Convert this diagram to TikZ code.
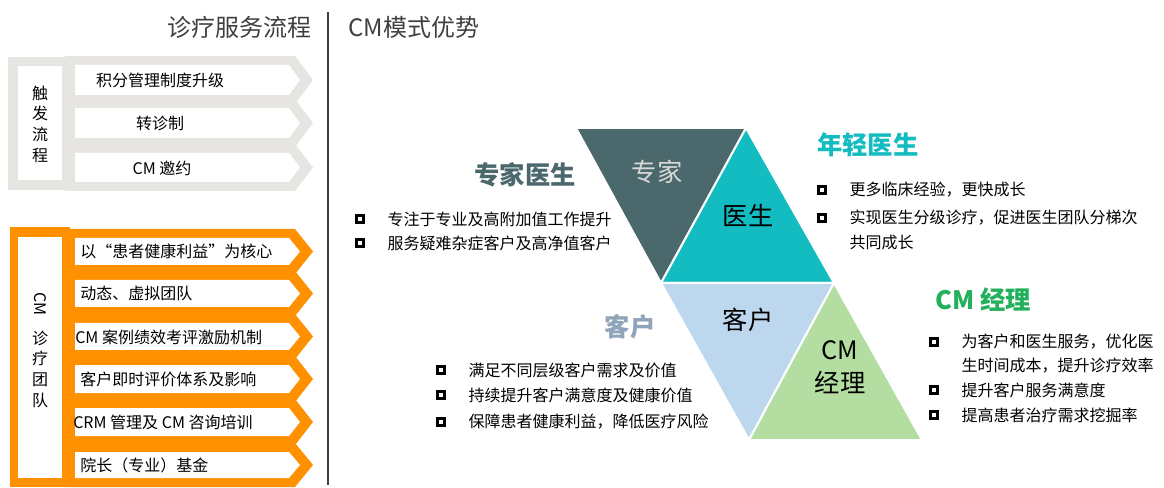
\documentclass[tikz,border=0pt]{standalone}
\usepackage{fontspec}
\setmainfont{Noto Sans CJK SC}
\usetikzlibrary{positioning}
\definecolor{flowgray}{HTML}{E6E5E1}
\definecolor{teamorange}{HTML}{FF9000}
\definecolor{expertslate}{HTML}{4B686C}
\definecolor{doctorteal}{HTML}{12BCC0}
\definecolor{clientblue}{HTML}{BDD7EE}
\definecolor{managergreen}{HTML}{B4DEA1}
\definecolor{headgreen}{HTML}{21B05B}
\definecolor{headblue}{HTML}{8FA4B8}
\definecolor{titlegray}{HTML}{3F3F3F}
\tikzstyle{rowtext} = [inner sep=0pt, font=\fontsize{12}{15.5}\selectfont]
\tikzstyle{item} = [inner sep=0pt, anchor=west, font=\fontsize{12}{14}\selectfont]
\tikzstyle{bullet} = [draw=black, fill=white, line width=1.9pt, minimum size=5pt, inner sep=0pt]
\tikzstyle{heading} = [inner sep=0pt, font=\fontsize{19}{22}\selectfont\bfseries]
\tikzstyle{tritext} = [inner sep=0pt, align=center, font=\fontsize{19}{25}\selectfont]
\tikzstyle{tri} = [draw=white, line width=1.5pt, line join=miter]
% one chevron row: colour, top and bottom of the white part
\newcommand{\chevron}[3]{%
  \fill[#1] (65,#2-9) -- (295,#2-9) -- (313,{(#2+#3)/2}) -- (295,#3+9) -- (65,#3+9) -- cycle;
  \fill[white] (75,#2) -- (289,#2) -- (300,{(#2+#3)/2}) -- (289,#3) -- (75,#3) -- cycle;}

\begin{document}
\begin{tikzpicture}[x=0.75pt, y=-0.75pt]
\useasboundingbox (0,0) rectangle (1164,488);
% titles
\node[inner sep=0pt, anchor=east, text=titlegray, font=\fontsize{18}{20}\selectfont] (left title) at (312,27) {诊疗服务流程};
\node[inner sep=0pt, anchor=west, text=titlegray, font=\fontsize{18}{20}\selectfont] (right title) at (348,27) {CM模式优势};
\draw[titlegray, line width=1.5pt] (328,12) -- (328,485);

% trigger flow
\fill[flowgray] (8,57) rectangle (70,190);
\fill[white] (18,66) rectangle (62,180);
\foreach \ya/\yb in {65/95, 108/138, 153/182}
  {\chevron{flowgray}{\ya}{\yb}}
\node[rowtext, align=center] (trigger) at (40,124) {触\\发\\流\\程};
\node[rowtext] (g1) at (160,80) {积分管理制度升级};
\node[rowtext] (g2) at (160,123) {转诊制};
\node[rowtext] (g3) at (162,168) {CM 邀约};

% CM team
\fill[teamorange] (10,227) rectangle (70,487);
\fill[white] (18,237) rectangle (62,478);
\foreach \ya/\yb in {238/265, 280/307, 323/350, 365/393, 408/436, 452/478}
  {\chevron{teamorange}{\ya}{\yb}}
\node[rowtext, rotate=-90] (team cm) at (40,304) {CM};
\node[rowtext, align=center] (team) at (40,369) {诊\\疗\\团\\队};
\node[rowtext, anchor=west] (o1) at (80,251) {以“患者健康利益”为核心};
\node[rowtext, anchor=west] (o2) at (80,293) {动态、虚拟团队};
\node[rowtext, anchor=west] (o3) at (75,337) {CM\ 案例绩效考评激励机制};
\node[rowtext, anchor=west] (o4) at (80,379) {客户即时评价体系及影响};
\node[rowtext, anchor=west] (o5) at (73,422) {CRM\ 管理及 CM 咨询培训};
\node[rowtext, anchor=west] (o6) at (80,465) {院长（专业）基金};

% triangles
\filldraw[tri, fill=expertslate] (576,128) -- (746,128) -- (661,283) -- cycle;
\filldraw[tri, fill=doctorteal] (661,283) -- (746,128) -- (834,283) -- cycle;
\filldraw[tri, fill=clientblue] (661,283) -- (834,283) -- (749,440) -- cycle;
\filldraw[tri, fill=managergreen] (749,440) -- (834,283) -- (922,440) -- cycle;
\node[tritext, text=black!15] (expert tri) at (657,172) {专家};
\node[tritext] (doctor tri) at (748,215) {医生};
\node[tritext] (client tri) at (748,320) {客户};
\node[tritext] (manager tri) at (840,367) {CM\\经理};

% expert doctor
\node[heading, text=expertslate] (expert) at (525,175) {专家医生};
\node[bullet] (eb1) at (360,219) {};
\node[item, right=17pt of eb1] (et1) {专注于专业及高附加值工作提升};
\node[bullet] (eb2) at (360,243) {};
\node[item, right=17pt of eb2] (et2) {服务疑难杂症客户及高净值客户};

% young doctor
\node[heading, anchor=west, text=doctorteal] (young) at (817,145) {年轻医生};
\node[bullet] (yb1) at (822,190) {};
\node[item, right=17pt of yb1] (yt1) {更多临床经验，更快成长};
\node[bullet] (yb2) at (822,218) {};
\node[item, right=17pt of yb2] (yt2) {实现医生分级诊疗，促进医生团队分梯次};
\node[item] (yt2b) at ([yshift=-18.5pt]yt2.west) {共同成长};

% client
\node[heading, text=headblue] (client) at (630,327) {客户};
\node[bullet] (cb1) at (441,370) {};
\node[item, right=17pt of cb1] (ct1) {满足不同层级客户需求及价值};
\node[bullet] (cb2) at (441,395) {};
\node[item, right=17pt of cb2] (ct2) {持续提升客户满意度及健康价值};
\node[bullet] (cb3) at (441,422) {};
\node[item, right=17pt of cb3] (ct3) {保障患者健康利益，降低医疗风险};

% CM manager
\node[heading, anchor=west, text=headgreen] (manager) at (935,300) {CM 经理};
\node[bullet] (mb1) at (934,342) {};
\node[item, right=17pt of mb1] (mt1) {为客户和医生服务，优化医};
\node[item] (mt1b) at ([yshift=-18pt]mt1.west) {生时间成本，提升诊疗效率};
\node[bullet] (mb2) at (934,390) {};
\node[item, right=17pt of mb2] (mt2) {提升客户服务满意度};
\node[bullet] (mb3) at (934,415) {};
\node[item, right=17pt of mb3] (mt3) {提高患者治疗需求挖掘率};
\end{tikzpicture}
\end{document}
